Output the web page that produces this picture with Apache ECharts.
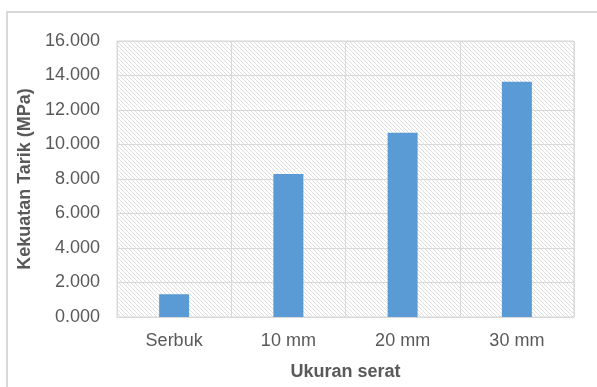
<!DOCTYPE html>
<html>
<head>
<meta charset="utf-8">
<script src="https://cdn.jsdelivr.net/npm/echarts@6/dist/echarts.min.js"></script>
<style>
  html, body { margin: 0; padding: 0; background: #ffffff; overflow: hidden; }
  #chart { width: 597px; height: 387px; }
</style>
</head>
<body>
<div id="chart"></div>
<script>
// Tensile strength by fibre size
const categories = ['Serbuk', '10 mm', '20 mm', '30 mm'];
const tensileStrength = [1.32, 8.29, 10.68, 13.64];
const yTicks = { min: 0, max: 16, interval: 2 };

// Diagonal hatch tile for the plot background
function hatchPattern() {
  const c = document.createElement('canvas');
  c.width = 4; c.height = 4;
  const g = c.getContext('2d');
  g.fillStyle = '#ffffff';
  g.fillRect(0, 0, 4, 4);
  g.strokeStyle = '#dddddd';
  g.lineWidth = 1;
  g.beginPath();
  g.moveTo(-1, -1); g.lineTo(5, 5);
  g.moveTo(3, -1); g.lineTo(5, 1);
  g.moveTo(-1, 3); g.lineTo(1, 5);
  g.stroke();
  return { image: c, repeat: 'repeat' };
}

const chart = echarts.init(document.getElementById('chart'), null, { renderer: 'canvas' });
const font = '"Liberation Sans", Arial, sans-serif';

chart.setOption({
  animation: false,
  backgroundColor: '#ffffff',
  textStyle: { fontFamily: font },
  // chart-area frame: left and top edges
  graphic: [{
    type: 'polyline',
    shape: { points: [[7, 400], [7, 12], [610, 12]] },
    style: { fill: null, stroke: '#d9d9d9', lineWidth: 2 },
    silent: true
  }],
  grid: {
    left: 117, width: 457, top: 41, height: 276,
    show: true,
    backgroundColor: hatchPattern(),
    borderColor: '#d9d9d9',
    borderWidth: 1
  },
  xAxis: {
    type: 'category',
    data: categories,
    name: 'Ukuran serat',
    nameLocation: 'middle',
    nameGap: 46,
    nameTextStyle: { fontFamily: font, fontSize: 18, fontWeight: 'bold', color: '#595959' },
    axisLine: { show: true, lineStyle: { color: '#d9d9d9', width: 1 } },
    axisTick: { show: false },
    axisLabel: { fontFamily: font, fontSize: 18, color: '#595959', margin: 15 },
    splitLine: { show: true, lineStyle: { color: '#d9d9d9', width: 1 } }
  },
  yAxis: {
    type: 'value',
    min: yTicks.min,
    max: yTicks.max,
    interval: yTicks.interval,
    name: 'Kekuatan Tarik (MPa)',
    nameLocation: 'middle',
    nameGap: 82,
    nameTextStyle: { fontFamily: font, fontSize: 18, fontWeight: 'bold', color: '#595959' },
    axisLine: { show: false },
    axisTick: { show: false },
    axisLabel: {
      fontFamily: font, fontSize: 18, color: '#595959', margin: 17,
      formatter: v => v.toFixed(3)
    },
    splitLine: { show: true, lineStyle: { color: '#d9d9d9', width: 1 } }
  },
  series: [{
    type: 'bar',
    data: tensileStrength,
    barWidth: 30,
    itemStyle: { color: '#5b9bd5' }
  }]
});
</script>
</body>
</html>
